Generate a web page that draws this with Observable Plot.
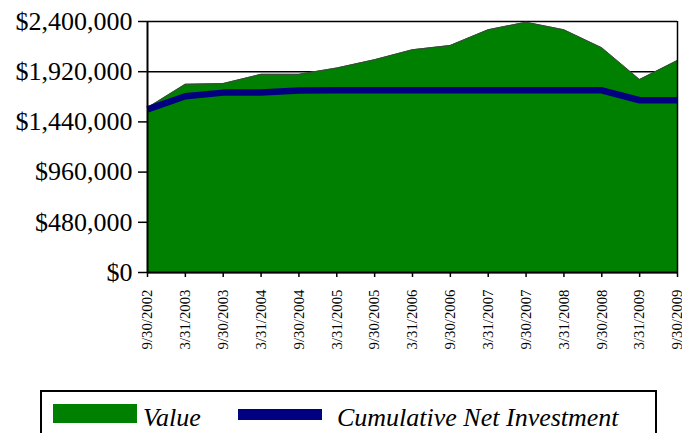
<!DOCTYPE html>
<html>
<head>
<meta charset="utf-8">
<script src="https://cdn.jsdelivr.net/npm/d3@7"></script>
<script src="https://cdn.jsdelivr.net/npm/@observablehq/plot@0.6"></script>
<style>
  html, body { margin: 0; padding: 0; background: #fff; }
  #wrap { position: relative; width: 682px; height: 433px; overflow: hidden; font-family: "Liberation Serif", "Times New Roman", serif; }
  #chart svg { display: block; }
  #chart g[aria-label="y-axis tick label"] { font-size: 26px; }
  #chart g[aria-label="x-axis tick label"] { font-size: 14.8px; }
  #legend { position: absolute; left: 40px; top: 390px; width: 617px; height: 60px; border: 2px solid #000; box-sizing: border-box; }
  .sw { position: absolute; }
  .lt { position: absolute; font-style: italic; font-size: 26px; line-height: 1; color: #000; white-space: nowrap; }
</style>
</head>
<body>
<div id="wrap">
  <div id="chart"></div>
  <div id="legend"></div>
</div>
<script>
const dates = ["9/30/2002","3/31/2003","9/30/2003","3/31/2004","9/30/2004","3/31/2005","9/30/2005","3/31/2006","9/30/2006","3/31/2007","9/30/2007","3/31/2008","9/30/2008","3/31/2009","9/30/2009"];
const values = [1575000, 1800000, 1806000, 1895000, 1895000, 1955000, 2035000, 2130000, 2171000, 2321000, 2393000, 2321000, 2149000, 1845000, 2028000];
const investment = [1560000, 1685000, 1720000, 1722000, 1740000, 1742000, 1742000, 1742000, 1742000, 1742000, 1742000, 1742000, 1742000, 1647000, 1647000];
const yTicks = [0, 480000, 960000, 1440000, 1920000, 2400000];
const seriesNames = ["Value", "Cumulative Net Investment"];
const seriesColors = ["#008000", "#000080"];

const data = dates.map((d, i) => ({i, date: d, value: values[i], invest: investment[i]}));
const idx = dates.map((d, i) => i);

const chart = Plot.plot({
  width: 682,
  height: 380,
  marginLeft: 147,
  marginRight: 5,
  marginTop: 21,
  marginBottom: 108,
  style: {fontFamily: "'Liberation Serif', 'Times New Roman', serif", color: "#000", background: "#fff"},
  x: {domain: [0, dates.length - 1]},
  y: {domain: [0, 2400000]},
  marks: [
    Plot.gridY(yTicks, {stroke: "#000", strokeOpacity: 1, strokeWidth: 1.5}),
    Plot.areaY(data, {x: "i", y: "value", fill: seriesColors[0]}),
    Plot.lineY(data, {x: "i", y: "value", stroke: "#444", strokeWidth: 1}),
    Plot.ruleX([dates.length - 1], {stroke: "#000", strokeWidth: 1.5}),
    Plot.lineY(data, {x: "i", y: "invest", stroke: seriesColors[1], strokeWidth: 6.5, strokeLinejoin: "miter", strokeLinecap: "butt"}),
    Plot.ruleX([0], {stroke: "#000", strokeWidth: 2}),
    Plot.ruleY([0], {stroke: "#000", strokeWidth: 2}),
    Plot.axisY({ticks: yTicks, tickFormat: d3.format("$,"), tickSize: 9, tickPadding: 6, label: null, stroke: "#000", strokeWidth: 1.5}),
    Plot.axisX({ticks: idx, tickFormat: i => dates[i], tickSize: 5, tickPadding: 12, tickRotate: -90, label: null, stroke: "#000", strokeWidth: 1.5})
  ]
});
document.getElementById("chart").appendChild(chart);

const legend = document.getElementById("legend");
const items = [
  {sx: 11, sy: 12, sw: 84, sh: 19, tx: 101},
  {sx: 196, sy: 17, sw: 84, sh: 11, tx: 295}
];
items.forEach((it, k) => {
  const s = document.createElement("div");
  s.className = "sw";
  s.style.cssText = `left:${it.sx}px;top:${it.sy}px;width:${it.sw}px;height:${it.sh}px;background:${seriesColors[k]}`;
  legend.appendChild(s);
  const t = document.createElement("div");
  t.className = "lt";
  t.style.left = it.tx + "px";
  t.style.top = "13px";
  t.textContent = seriesNames[k];
  legend.appendChild(t);
});
</script>
</body>
</html>
